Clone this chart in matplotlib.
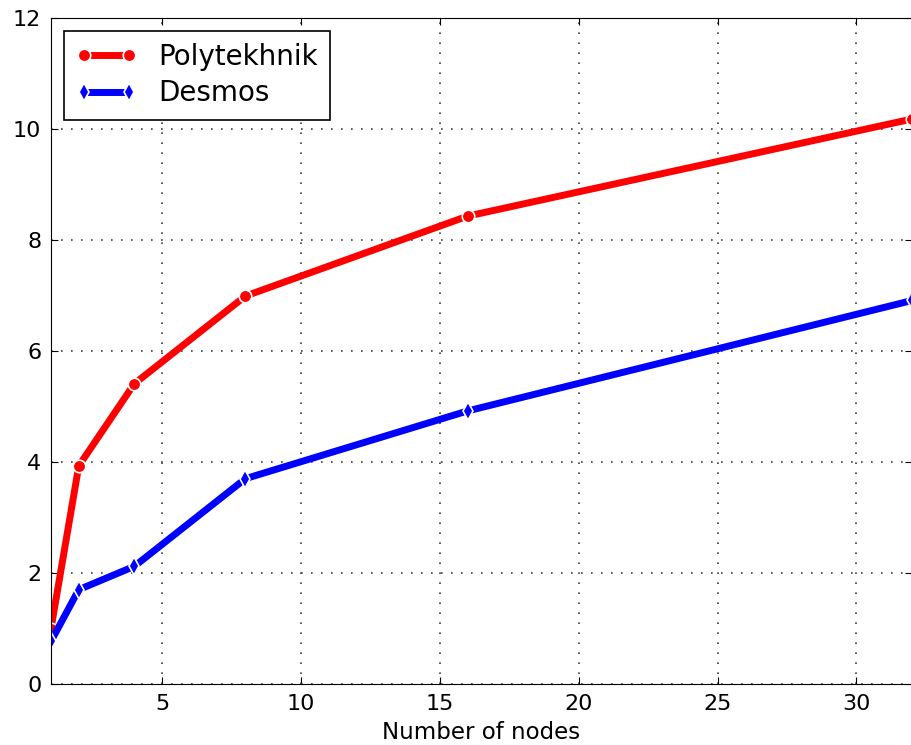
import matplotlib
matplotlib.use('Agg')
import matplotlib.pyplot as plt

nodes = [1, 2, 4, 8, 16, 32]
polytekhnik = [1.0, 3.93, 5.41, 6.99, 8.43, 10.18]
desmos = [0.77, 1.70, 2.12, 3.70, 4.92, 6.91]

plt.rcParams['font.family'] = 'DejaVu Sans'

fig = plt.figure(figsize=(9.11, 7.45), dpi=100)
ax = fig.add_axes([51/911., 61/745., 861/911., 666/745.])

ax.plot(nodes, polytekhnik, 'r-', lw=5, marker='o', ms=9,
        mec='white', mew=1.2, label='Polytekhnik')
ax.plot(nodes, desmos, 'b-', lw=5, marker='d', ms=9,
        mec='white', mew=1.2, label='Desmos')

ax.set_xlim(1, 32)
ax.set_ylim(0, 12)
ax.set_xticks([5, 10, 15, 20, 25, 30])
ax.set_yticks(range(0, 13, 2))
ax.tick_params(direction='in', top=True, right=True, labelsize=16, length=5, pad=7)
ax.grid(True, color='0.25', linestyle=(0, (1, 5)), linewidth=1.2)
ax.set_xlabel('Number of nodes', fontsize=16.5, labelpad=5)

leg = ax.legend(loc='upper left', fontsize=20, numpoints=2, fancybox=False,
                framealpha=1, edgecolor='k', handlelength=2.2,
                borderpad=0.45, handletextpad=0.75, labelspacing=0.3,
                borderaxespad=0.45)
leg.get_frame().set_linewidth(1.2)

fig.savefig('out.png', dpi=100)
